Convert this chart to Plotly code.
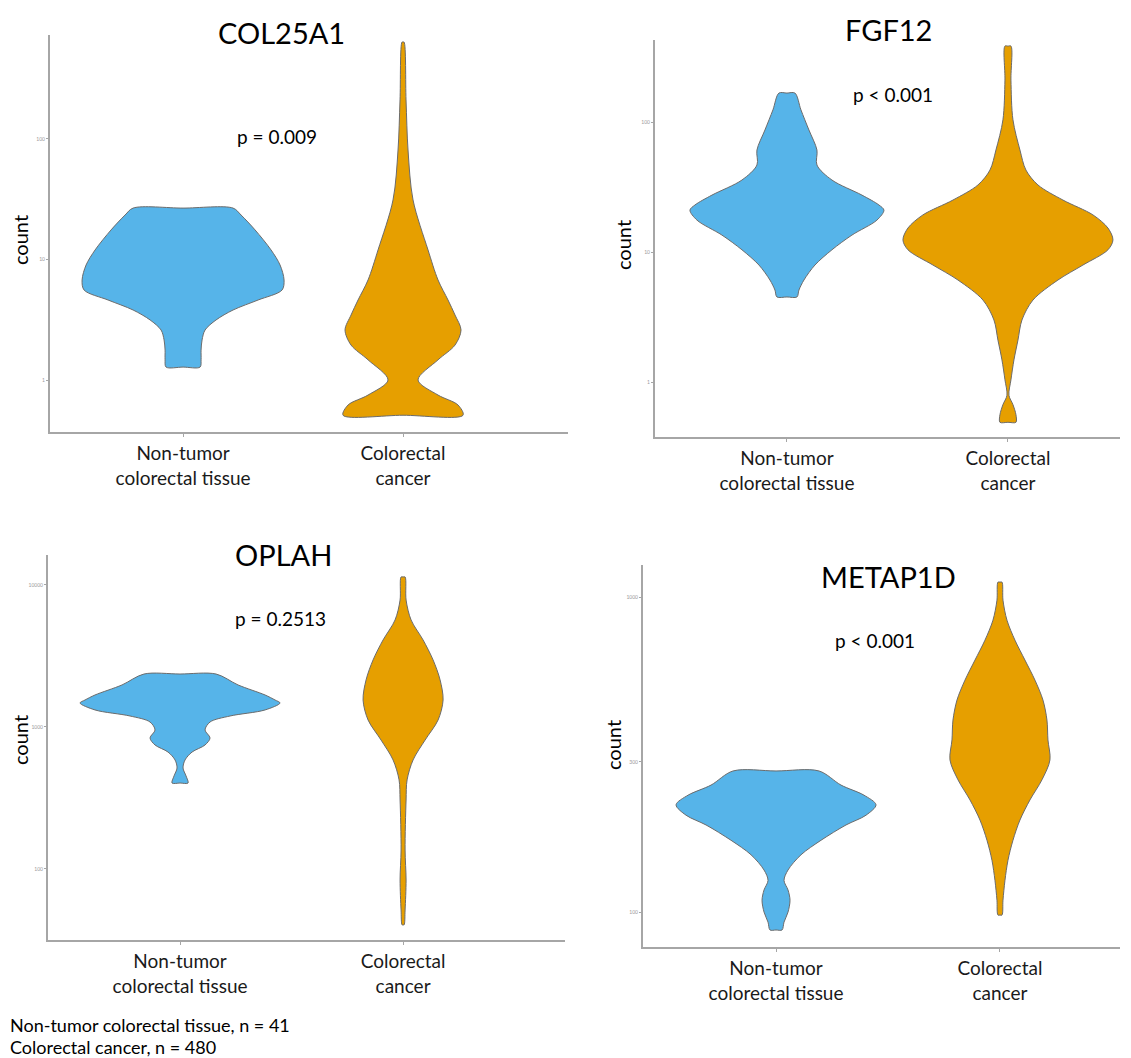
import plotly.graph_objects as go

# Category labels shared by all four panels
GROUPS = ["Non-tumor<br>colorectal tissue", "Colorectal<br>cancer"]
BLUE = "#56B4E9"
ORANGE = "#E69F00"
FONT = "Lato"

# ---- Violin density profiles: count level (top -> bottom) and relative half-width ----
col25a1_normal_counts = [26.7, 23.4, 17.6, 12.0, 9.0, 6.76, 5.58, 4.61, 3.81, 3.15, 2.60, 2.15, 1.77, 1.47, 1.28]
col25a1_normal_width = [0.50, 0.58, 0.72, 0.88, 0.97, 1.01, 0.99, 0.75, 0.50, 0.33, 0.22, 0.19, 0.18, 0.18, 0.17]
col25a1_cancer_counts = [638, 211, 81, 31.2, 12.0, 6.76, 4.61, 3.46, 2.60, 1.95, 1.47, 1.0, 0.75, 0.62, 0.51]
col25a1_cancer_width = [0.01, 0.03, 0.05, 0.10, 0.25, 0.35, 0.45, 0.52, 0.58, 0.52, 0.35, 0.15, 0.35, 0.55, 0.60]

fgf12_normal_counts = [167, 124, 86.8, 60.9, 46.7, 35.8, 27.4, 23.0, 21.0, 17.6, 13.5, 10.4, 7.94, 6.09, 5.10, 4.51]
fgf12_normal_width = [0.08, 0.14, 0.22, 0.30, 0.30, 0.45, 0.75, 0.92, 0.97, 0.90, 0.65, 0.45, 0.28, 0.17, 0.12, 0.10]
fgf12_cancer_counts = [384, 210, 104, 60.9, 42.7, 32.8, 25.1, 19.3, 15.3, 12.4, 10.4, 7.94, 6.09, 4.27, 3.00,
                       2.10, 1.48, 1.04, 0.79, 0.67, 0.56, 0.49]
fgf12_cancer_width = [0.03, 0.03, 0.05, 0.12, 0.18, 0.30, 0.55, 0.85, 1.00, 1.05, 1.00, 0.75, 0.50, 0.25, 0.14,
                      0.10, 0.06, 0.03, 0.01, 0.05, 0.08, 0.08]

oplah_normal_counts = [2360, 1977, 1680, 1549, 1476, 1318, 1195, 1084, 952, 837, 747, 666, 586, 514, 452, 403]
oplah_normal_width = [0.36, 0.58, 0.85, 0.95, 1.00, 0.85, 0.50, 0.30, 0.25, 0.30, 0.25, 0.12, 0.05, 0.03, 0.06, 0.08]
oplah_cancer_counts = [11380, 7830, 5670, 4100, 2965, 2145, 1549, 1120, 809, 586, 424, 306, 136, 83.7, 51.4, 40.4]
oplah_cancer_width = [0.02, 0.03, 0.08, 0.20, 0.30, 0.37, 0.40, 0.35, 0.22, 0.10, 0.04, 0.03, 0.02, 0.03, 0.02, 0.01]

metap1d_normal_counts = [280.5, 253, 235, 219, 203, 189, 169, 152, 136, 126, 117.5, 109, 100, 92.9, 87.7]
metap1d_normal_width = [0.43, 0.65, 0.88, 1.00, 0.90, 0.70, 0.45, 0.25, 0.12, 0.08, 0.12, 0.14, 0.12, 0.08, 0.06]
metap1d_cancer_counts = [1116, 978, 845, 730, 631, 545, 471, 407, 352, 304, 263, 227, 196, 169, 146, 126, 109, 97.8]
metap1d_cancer_width = [0.02, 0.03, 0.07, 0.15, 0.25, 0.35, 0.43, 0.47, 0.48, 0.50, 0.42, 0.30, 0.20, 0.13, 0.08,
                        0.05, 0.03, 0.02]

genes = ["COL25A1", "FGF12", "OPLAH", "METAP1D"]
p_values = ["p = 0.009", "p < 0.001", "p = 0.2513", "p < 0.001"]
y_ticks = [[1, 10, 100], [1, 10, 100], [100, 1000, 10000], [100, 300, 1000]]
profiles = [
    ((col25a1_normal_counts, col25a1_normal_width), (col25a1_cancer_counts, col25a1_cancer_width)),
    ((fgf12_normal_counts, fgf12_normal_width), (fgf12_cancer_counts, fgf12_cancer_width)),
    ((oplah_normal_counts, oplah_normal_width), (oplah_cancer_counts, oplah_cancer_width)),
    ((metap1d_normal_counts, metap1d_normal_width), (metap1d_cancer_counts, metap1d_cancer_width)),
]
group_n = [("Non-tumor colorectal tissue", 41), ("Colorectal cancer", 480)]

# ---- Panel layout (paper coordinates) ----
W, H = 1131, 1058
panels = [
    dict(x=(50, 568), y=(432, 35), xr=(0.395, 2.75), yr=(-0.4315, 2.863), scale=100 / 220,
         title=(281, 33), p=(277, 136), ylab=(20, 240)),
    dict(x=(655, 1120), y=(437, 40), xr=(0.403, 2.507), yr=(-0.423, 2.631), scale=100 / 221,
         title=(888, 29), p=(893, 95), ylab=(623, 245)),
    dict(x=(48, 565), y=(940, 555), xr=(0.408, 2.726), yr=(1.5, 4.211), scale=100 / 223,
         title=(283, 554), p=(280, 618), ylab=(20, 740)),
    dict(x=(643, 1120), y=(947, 565), xr=(0.406, 2.536), yr=(1.889, 3.102), scale=100 / 224,
         title=(888, 576), p=(875, 640), ylab=(613, 745)),
]

fig = go.Figure()
annotations = []
layout_axes = {}

for i, (gene, pv, ticks, prof, pn) in enumerate(zip(genes, p_values, y_ticks, profiles, panels)):
    k = "" if i == 0 else str(i + 1)
    xa, ya = "x" + k, "y" + k
    for pos, ((counts, width), color) in enumerate(zip(prof, [BLUE, ORANGE]), start=1):
        half = [w * pn["scale"] for w in width]
        # Outline: top centre, right edge down, bottom centre, left edge up.
        # Centre points keep the trimmed (flat) ends straight under spline smoothing.
        xs = [pos] + [pos + h for h in half] + [pos] + [pos - h for h in reversed(half)] + [pos]
        ys = [counts[0]] + list(counts) + [counts[-1]] + list(reversed(counts)) + [counts[0]]
        fig.add_trace(go.Scatter(
            x=xs, y=ys, xaxis=xa, yaxis=ya, mode="lines", fill="toself",
            fillcolor=color, line=dict(color="#6b6b6b", width=1, shape="spline", smoothing=0.9),
            hoverinfo="skip", showlegend=False,
        ))

    layout_axes["xaxis" + k] = dict(
        domain=[pn["x"][0] / W, pn["x"][1] / W], range=list(pn["xr"]), anchor=ya,
        tickmode="array", tickvals=[1, 2], ticktext=GROUPS,
        tickfont=dict(family=FONT, size=19, color="#1a1a1a"),
        showline=True, linecolor="#a6a6a6", linewidth=2, ticks="outside", ticklen=3,
        tickcolor="#a6a6a6", showgrid=False, zeroline=False, fixedrange=True,
    )
    layout_axes["yaxis" + k] = dict(
        domain=[1 - pn["y"][0] / H, 1 - pn["y"][1] / H], range=list(pn["yr"]), type="log",
        anchor=xa, tickmode="array", tickvals=ticks, ticktext=[str(t) for t in ticks],
        tickfont=dict(family=FONT, size=5, color="#9a9a9a"),
        showline=True, linecolor="#a6a6a6", linewidth=2, ticks="outside", ticklen=2,
        tickcolor="#a6a6a6", showgrid=False, zeroline=False, fixedrange=True,
    )

    annotations.append(dict(x=pn["title"][0] / W, y=1 - pn["title"][1] / H, xref="paper", yref="paper",
                            text=gene, showarrow=False, font=dict(family=FONT, size=29, color="#000"),
                            xanchor="center", yanchor="middle"))
    annotations.append(dict(x=pn["p"][0] / W, y=1 - pn["p"][1] / H, xref="paper", yref="paper",
                            text=pv, showarrow=False, font=dict(family=FONT, size=19, color="#000"),
                            xanchor="center", yanchor="middle"))
    annotations.append(dict(x=pn["ylab"][0] / W, y=1 - pn["ylab"][1] / H, xref="paper", yref="paper",
                            text="count", showarrow=False, textangle=-90,
                            font=dict(family=FONT, size=20, color="#000"),
                            xanchor="center", yanchor="middle"))

# Group sizes footnote
for j, (name, n) in enumerate(group_n):
    annotations.append(dict(x=8 / W, y=1 - (1025 + 22 * j) / H, xref="paper", yref="paper",
                            text=f"{name}, n = {n}", showarrow=False,
                            font=dict(family=FONT, size=18, color="#000"),
                            xanchor="left", yanchor="middle"))

fig.update_layout(
    width=W, height=H, margin=dict(l=0, r=0, t=0, b=0),
    paper_bgcolor="white", plot_bgcolor="white",
    annotations=annotations, **layout_axes,
)

fig.write_html("out.html")
